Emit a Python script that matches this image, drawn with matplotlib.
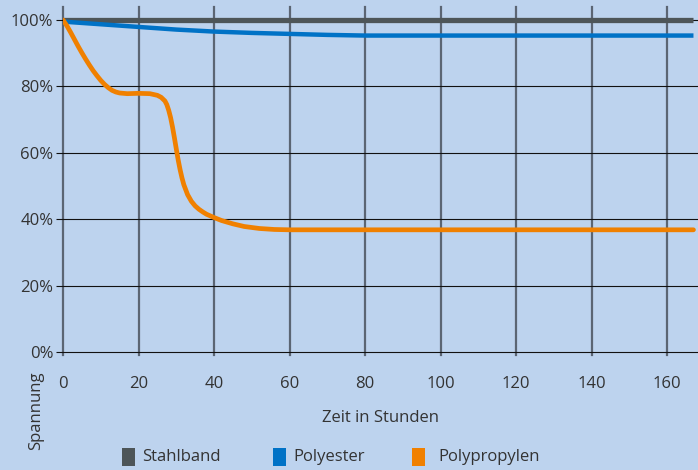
import numpy as np
import matplotlib.pyplot as plt
from matplotlib.patches import Rectangle

plt.rcParams['font.family'] = ['Open Sans', 'DejaVu Sans']

# --- data (hours, tension in %)
hours_steel = [0, 167]
steel       = [100, 100]

hours_pes = [0, 5, 10, 20, 30, 40, 50, 60, 70, 80, 100, 120, 140, 167]
polyester = [99.5, 99.1, 98.7, 97.9, 97.1, 96.5, 96.1, 95.8, 95.5, 95.3, 95.3, 95.3, 95.3, 95.3]

hours_pp = [0, 1, 2, 3, 4, 5, 6, 7, 8, 9, 10, 11, 12, 13, 14, 15, 17, 20, 23, 25,
            26, 27, 27.5, 28, 28.5, 29, 29.5, 30, 30.5, 31, 31.5, 32, 33, 34, 35,
            36, 37, 38, 40, 42, 45, 48, 52, 56, 60, 80, 100, 120, 140, 167]
polypropylen = [100, 98.3, 96.3, 94.2, 92.1, 90.1, 88.2, 86.4, 84.7, 83.2, 81.8, 80.6,
                79.6, 78.8, 78.3, 78.0, 77.8, 77.9, 77.8, 77.3,
                76.7, 75.6, 74.5, 72.8, 70.6, 67.8, 64.6, 61.2, 57.9, 55.0, 52.5, 50.4,
                47.4, 45.4, 44.0, 43.0, 42.2, 41.5, 40.5, 39.6, 38.6, 37.8, 37.2, 36.9,
                36.8, 36.8, 36.8, 36.8, 36.8, 36.8]

x_ticks = [0, 20, 40, 60, 80, 100, 120, 140, 160]
y_ticks = [0, 20, 40, 60, 80, 100]
y_labels = ['0%', '20%', '40%', '60%', '80%', '100%']
series_names = ['Stahlband', 'Polyester', 'Polypropylen']
colors = ['#4d5558', '#0072c6', '#f08000']

bg = '#bdd3ee'
txt = '#333333'
fs = 12
W, H = 698, 470

fig = plt.figure(figsize=(W / 100, H / 100), dpi=100, facecolor=bg)
ax = fig.add_axes([63 / W, 1 - 355 / H, 1 - 63 / W, (355 - 7) / H])
ax.set_facecolor(bg)

ax.set_xlim(0, 168.2)
ax.set_ylim(-0.9, 103.9)

# grid: vertical grey, horizontal thin black
for xv in x_ticks:
    ax.axvline(xv, color='#5b6573', lw=1.6, zorder=1, clip_on=False)
for yv in y_ticks:
    ax.axhline(yv, color='#111111', lw=0.8, zorder=1)

ax.plot(hours_steel, steel, color=colors[0], lw=3.8, zorder=3, solid_capstyle='butt')
ax.plot(hours_pes, polyester, color=colors[1], lw=3.2, zorder=3, solid_capstyle='butt')
ax.plot(hours_pp, polypropylen, color=colors[2], lw=3.4, zorder=4, solid_capstyle='round')

for s in ax.spines.values():
    s.set_visible(False)

ax.set_yticks(y_ticks)
ax.set_yticklabels(y_labels)
ax.set_xticks(x_ticks)
ax.tick_params(axis='y', length=5, width=0.8, color='#111111', labelsize=fs,
               labelcolor=txt, pad=2)
ax.tick_params(axis='x', length=0, labelsize=fs, labelcolor=txt, pad=15)
ax.set_xlabel('Zeit in Stunden', fontsize=fs, color=txt, labelpad=13)

fig.text(36 / W, 1 - 371 / H, 'Spannung', rotation=90, ha='center', va='top',
         fontsize=fs, color=txt)

# legend drawn by hand: swatch + label
patch_x = [122, 273, 412]
label_x = [142, 293, 438]
for px, lx, name, c in zip(patch_x, label_x, series_names, colors):
    fig.add_artist(Rectangle((px / W, 1 - 466 / H), 13 / W, 18 / H,
                             transform=fig.transFigure, facecolor=c, edgecolor='none'))
    fig.text(lx / W, 1 - 457 / H, name, ha='left', va='center', fontsize=fs, color=txt)

fig.savefig('out.png', dpi=100, facecolor=bg)
